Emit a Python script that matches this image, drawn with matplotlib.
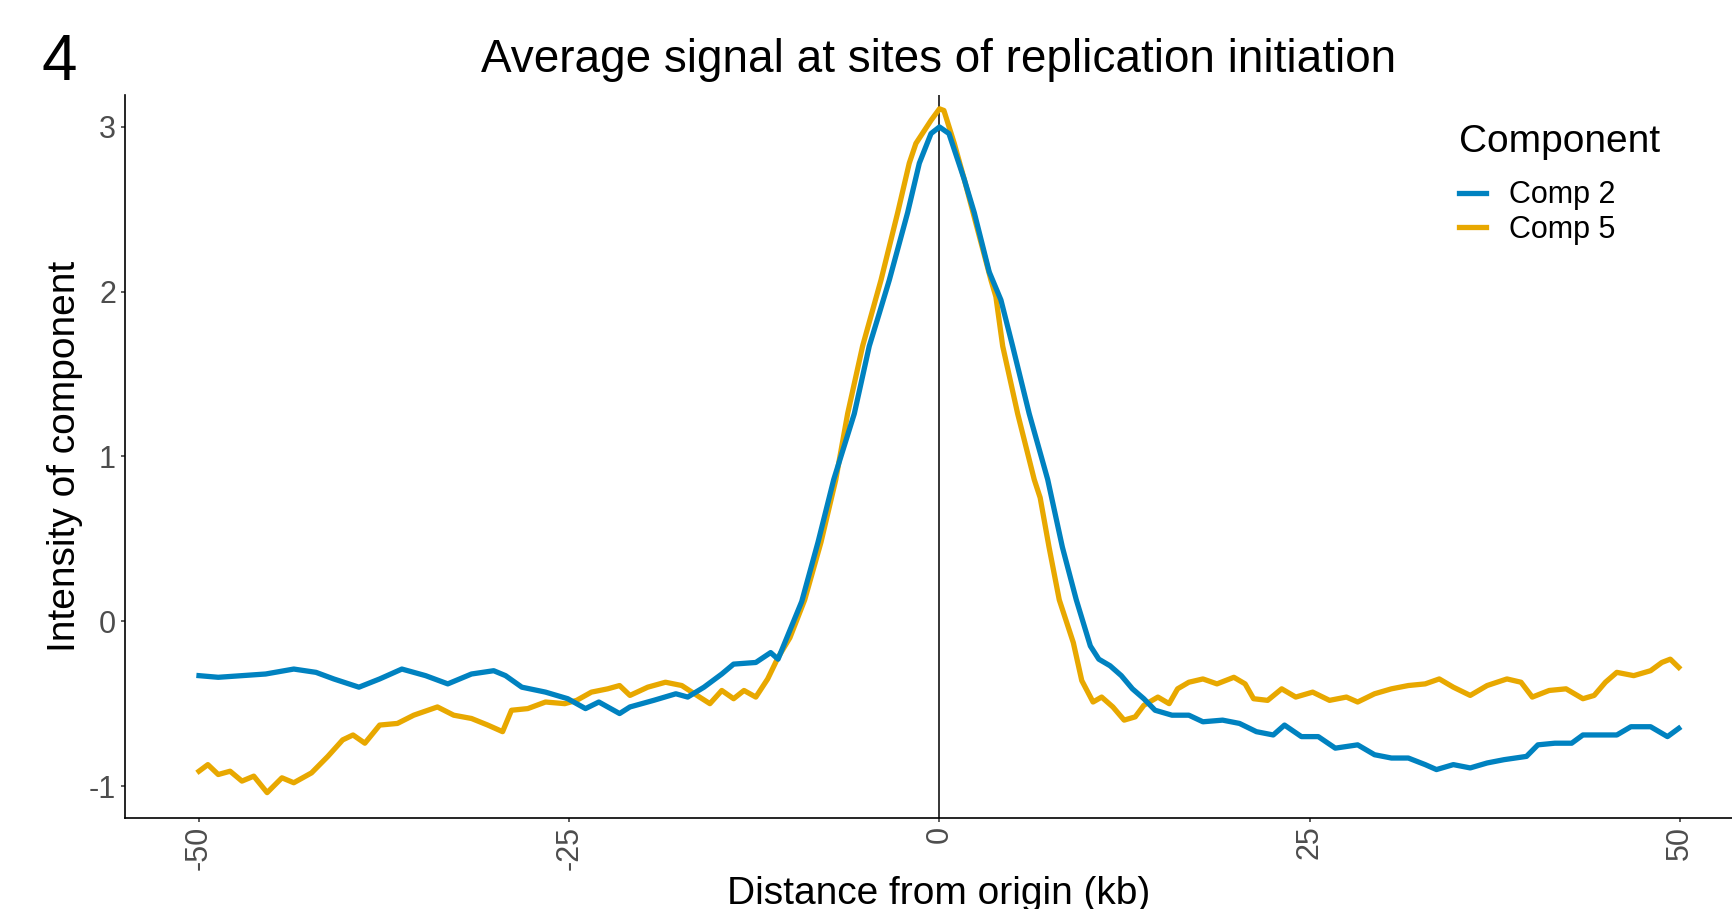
import matplotlib
matplotlib.use("Agg")
from matplotlib import pyplot as plt

plt.rcParams['font.family'] = ['Liberation Sans', 'DejaVu Sans']
plt.rcParams['axes.unicode_minus'] = False

# Comp 2 (blue) - distance from origin (kb) and intensity
comp2_x = [-50, -48.7, -47.1, -45.5, -43.6, -42.1, -40.9, -39.2, -37.8, -36.3,
           -34.7, -33.2, -31.6, -30.1, -29.3, -28.2, -26.6, -25.1, -23.9, -23.0,
           -21.6, -20.9, -19.3, -17.8, -17.0, -15.9, -14.7, -13.9, -12.4, -11.4,
           -10.9, -9.3, -8.2, -7.14, -5.75, -4.74, -4.06, -3.39, -2.15, -1.36,
           -0.57, 0.0, 0.64, 1.68, 2.35, 3.36, 4.15, 4.94, 6.06, 7.31,
           8.3, 9.24, 10.19, 10.76, 11.52, 12.28, 13.03, 13.8, 14.56, 15.7,
           16.84, 17.79, 19.12, 20.26, 21.4, 22.54, 23.3, 24.44, 25.58, 26.73,
           28.24, 29.38, 30.52, 31.66, 32.8, 33.56, 34.7, 35.84, 36.98, 38.12,
           39.64, 40.41, 41.55, 42.69, 43.45, 44.6, 45.74, 46.69, 48.02, 49.16, 49.92]
comp2_y = [-0.33, -0.34, -0.33, -0.32, -0.29, -0.31, -0.35, -0.40, -0.35, -0.29,
           -0.33, -0.38, -0.32, -0.30, -0.33, -0.40, -0.43, -0.47, -0.53, -0.49,
           -0.56, -0.52, -0.48, -0.44, -0.46, -0.40, -0.32, -0.26, -0.25, -0.19,
           -0.23, 0.12, 0.48, 0.86, 1.26, 1.67, 1.87, 2.07, 2.48, 2.78,
           2.96, 3.00, 2.96, 2.68, 2.48, 2.12, 1.95, 1.67, 1.26, 0.86,
           0.45, 0.13, -0.15, -0.23, -0.27, -0.33, -0.41, -0.47, -0.54, -0.57,
           -0.57, -0.61, -0.60, -0.62, -0.67, -0.69, -0.63, -0.70, -0.70, -0.77,
           -0.75, -0.81, -0.83, -0.83, -0.87, -0.90, -0.87, -0.89, -0.86, -0.84,
           -0.82, -0.75, -0.74, -0.74, -0.69, -0.69, -0.69, -0.64, -0.64, -0.70, -0.65]

# Comp 5 (orange)
comp5_x = [-50.0, -49.4, -48.7, -47.9, -47.1, -46.3, -45.4, -44.4, -43.6, -42.4,
           -41.3, -40.3, -39.6, -38.8, -37.8, -36.6, -35.5, -33.9, -32.8, -31.6,
           -30.5, -29.5, -28.9, -27.8, -26.6, -25.3, -24.5, -23.5, -22.4, -21.6,
           -20.9, -19.7, -18.5, -17.4, -16.2, -15.5, -14.7, -13.9, -13.2, -12.4,
           -11.6, -10.9, -10.1, -9.1, -8.0, -7.0, -6.2, -5.19, -3.95, -2.82,
           -2.04, -1.59, -0.57, 0.0, 0.3, 1.0, 1.68, 3.48, 3.81, 4.27,
           5.28, 6.4, 6.8, 7.4, 8.09, 9.04, 9.61, 10.37, 10.95, 11.71,
           12.47, 13.22, 13.8, 14.75, 15.51, 16.08, 16.84, 17.79, 18.74, 19.88,
           20.64, 21.21, 22.16, 23.11, 24.06, 25.2, 26.34, 27.48, 28.24, 29.38,
           30.52, 31.66, 32.8, 33.75, 34.7, 35.84, 36.98, 38.32, 39.27, 40.03,
           41.17, 42.31, 43.45, 44.21, 44.97, 45.74, 46.88, 48.02, 48.78, 49.35, 49.92]
comp5_y = [-0.91, -0.87, -0.93, -0.91, -0.97, -0.94, -1.04, -0.95, -0.98, -0.92,
           -0.82, -0.72, -0.69, -0.74, -0.63, -0.62, -0.57, -0.52, -0.57, -0.59,
           -0.63, -0.67, -0.54, -0.53, -0.49, -0.50, -0.48, -0.43, -0.41, -0.39,
           -0.45, -0.40, -0.37, -0.39, -0.46, -0.50, -0.42, -0.47, -0.42, -0.46,
           -0.35, -0.22, -0.10, 0.13, 0.48, 0.86, 1.26, 1.67, 2.07, 2.48,
           2.78, 2.90, 3.04, 3.11, 3.10, 2.90, 2.68, 2.07, 1.97, 1.67,
           1.26, 0.86, 0.75, 0.45, 0.13, -0.13, -0.36, -0.49, -0.46, -0.52,
           -0.60, -0.58, -0.51, -0.46, -0.50, -0.41, -0.37, -0.35, -0.38, -0.34,
           -0.38, -0.47, -0.48, -0.41, -0.46, -0.43, -0.48, -0.46, -0.49, -0.44,
           -0.41, -0.39, -0.38, -0.35, -0.40, -0.45, -0.39, -0.35, -0.37, -0.46,
           -0.42, -0.41, -0.47, -0.45, -0.37, -0.31, -0.33, -0.30, -0.25, -0.23, -0.28]

x_ticks = [-50, -25, 0, 25, 50]
y_ticks = [-1, 0, 1, 2, 3]

fig = plt.figure(figsize=(17.33, 9.09), dpi=100)
ax = fig.add_axes([0.0721, 0.1001, 0.940, 0.7954])

ax.axvline(0, color='black', linewidth=1.1, zorder=1)
ax.plot(comp2_x, comp2_y, color='#0082C0', linewidth=3.8, label='Comp 2', zorder=3,
        solid_joinstyle='round')
ax.plot(comp5_x, comp5_y, color='#E8A800', linewidth=3.8, label='Comp 5', zorder=2,
        solid_joinstyle='round')

ax.set_xlim(-55, 55)
ax.set_ylim(-1.194, 3.194)
ax.set_xticks(x_ticks)
ax.set_xticklabels([str(t) for t in x_ticks], rotation=90)
ax.set_yticks(y_ticks)
for s in ['top', 'right']:
    ax.spines[s].set_visible(False)
for s in ['left', 'bottom']:
    ax.spines[s].set_linewidth(1.2)
ax.tick_params(labelsize=22, labelcolor='#4D4D4D', color='#333333', length=3, width=1.1)
ax.tick_params(axis='x', pad=2.5)
ax.tick_params(axis='y', pad=3.5)

# legend entries, title drawn separately
leg = ax.legend(loc='center left', bbox_to_anchor=(1459 / 1733, 1 - 212.5 / 909),
                bbox_transform=fig.transFigure, frameon=False,
                fontsize=22, handlelength=0.9, handletextpad=0.75,
                labelspacing=0.15, borderpad=0, borderaxespad=0)
fig.text(1459 / 1733, 1 - 152 / 909, 'Component', fontsize=28, ha='left', va='baseline')

fig.text(938.5 / 1733, 1 - 72 / 909, 'Average signal at sites of replication initiation',
         fontsize=33, ha='center', va='baseline')
fig.text(42 / 1733, 1 - 80 / 909, '4', fontsize=46, ha='left', va='baseline')
fig.text(65 / 1733, 0.498, 'Intensity of component', fontsize=28, rotation=90,
         ha='center', va='center')
fig.text(938.5 / 1733, 1 - 904 / 909, 'Distance from origin (kb)', fontsize=28,
         ha='center', va='baseline')

fig.savefig('out.png', dpi=100)
